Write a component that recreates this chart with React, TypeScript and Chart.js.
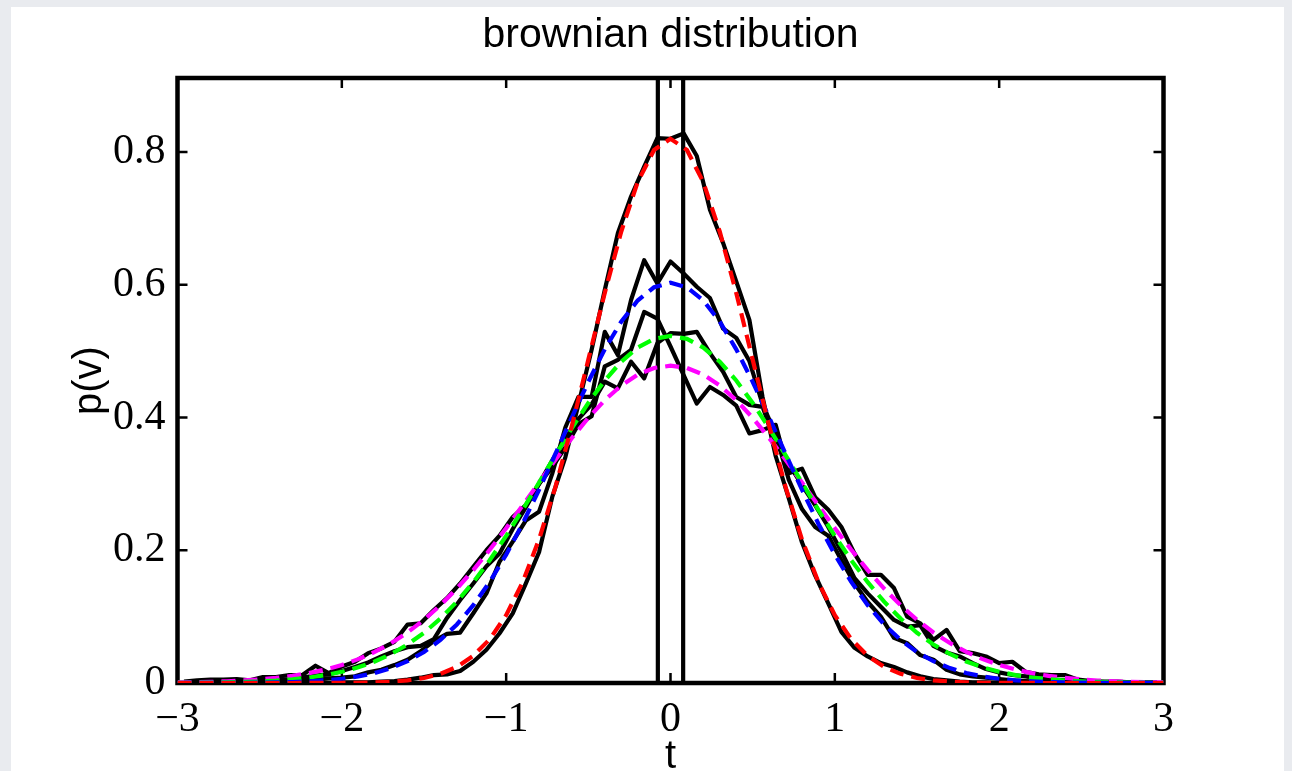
import React, { useEffect, useRef } from "react";
import { Chart, registerables } from "chart.js";

Chart.register(...registerables);

// ---------- data ----------
const binX = [
  -2.96, -2.88, -2.8, -2.72, -2.64, -2.56, -2.48, -2.4, -2.32, -2.24, -2.16, -2.08, -2.0,
  -1.92, -1.84, -1.76, -1.68, -1.6, -1.52, -1.44, -1.36, -1.28, -1.2, -1.12, -1.04,
  -0.96, -0.88, -0.8, -0.72, -0.64, -0.56, -0.48, -0.4, -0.32, -0.24, -0.16, -0.08,
  0,
  0.08, 0.16, 0.24, 0.32, 0.4, 0.48, 0.56, 0.64, 0.72, 0.8, 0.88, 0.96,
  1.04, 1.12, 1.2, 1.28, 1.36, 1.44, 1.52, 1.6, 1.68, 1.76, 1.84, 1.92,
  2.0, 2.08, 2.16, 2.24, 2.32, 2.4, 2.48, 2.56, 2.64, 2.72, 2.8, 2.88, 2.96,
];

// empirical histograms (black solid)
const histRed = [
  0, 0, 0, 0, 0, 0, 0, 0, 0, 0, 0, 0,
  0.001, 0.001, 0.001, 0.002, 0.003, 0.005, 0.008, 0.012, 0.013, 0.018, 0.032, 0.05, 0.075,
  0.105, 0.15, 0.197, 0.28, 0.34, 0.42, 0.502, 0.592, 0.678, 0.733, 0.778, 0.821,
  0.82,
  0.828, 0.794, 0.713, 0.663, 0.605, 0.547, 0.431, 0.342, 0.278, 0.212, 0.162, 0.12,
  0.077, 0.053, 0.04, 0.03, 0.024, 0.016, 0.01, 0.006, 0.004, 0.002, 0.001, 0.001,
  0, 0, 0, 0, 0, 0, 0, 0, 0, 0, 0, 0, 0,
];
const histBlue = [
  0, 0, 0, 0.001, 0.001, 0.002, 0.002, 0.003, 0.004, 0.004, 0.005, 0.007,
  0.008, 0.01, 0.016, 0.02, 0.027, 0.035, 0.048, 0.063, 0.074, 0.076, 0.105, 0.135, 0.183,
  0.213, 0.245, 0.258, 0.315, 0.385, 0.431, 0.431, 0.529, 0.494, 0.577, 0.637, 0.602,
  0.635,
  0.617, 0.597, 0.58, 0.534, 0.52, 0.485, 0.42, 0.375, 0.306, 0.262, 0.235, 0.222,
  0.185, 0.15, 0.122, 0.1, 0.068, 0.06, 0.042, 0.035, 0.02, 0.013, 0.01, 0.008,
  0.006, 0.004, 0.003, 0.002, 0.002, 0.001, 0.001, 0, 0, 0, 0, 0, 0,
];
const histGreen = [
  0.001, 0.001, 0.001, 0.002, 0.002, 0.003, 0.004, 0.005, 0.006, 0.008, 0.011, 0.013,
  0.018, 0.024, 0.031, 0.04, 0.048, 0.054, 0.056, 0.066, 0.098, 0.125, 0.15, 0.176, 0.195,
  0.232, 0.265, 0.3, 0.335, 0.368, 0.398, 0.42, 0.454, 0.444, 0.484, 0.459, 0.512,
  0.527,
  0.526, 0.529, 0.497, 0.469, 0.431, 0.419, 0.416, 0.362, 0.33, 0.298, 0.268, 0.235,
  0.198, 0.158, 0.135, 0.115, 0.095, 0.085, 0.087, 0.056, 0.046, 0.04, 0.03, 0.021,
  0.016, 0.012, 0.01, 0.007, 0.005, 0.004, 0.003, 0.002, 0.001, 0.001, 0.001, 0, 0,
];
const histMagenta = [
  0.002, 0.004, 0.005, 0.005, 0.006, 0.004, 0.009, 0.009, 0.012, 0.012, 0.026, 0.015,
  0.025, 0.032, 0.045, 0.052, 0.062, 0.088, 0.09, 0.11, 0.128, 0.15, 0.175, 0.2, 0.222,
  0.25, 0.268, 0.3, 0.325, 0.355, 0.39, 0.402, 0.477, 0.487, 0.502, 0.559, 0.549,
  0.507,
  0.464, 0.421, 0.446, 0.434, 0.418, 0.376, 0.381, 0.389, 0.316, 0.323, 0.28, 0.261,
  0.235, 0.195, 0.163, 0.163, 0.143, 0.1, 0.09, 0.065, 0.08, 0.048, 0.045, 0.04,
  0.03, 0.032, 0.017, 0.013, 0.012, 0.012, 0.005, 0.003, 0.002, 0.002, 0.001, 0.001, 0.001,
];

// fitted curves (dashed)
const fitX = [
  -3.0, -2.9, -2.8, -2.7, -2.6, -2.5, -2.4, -2.3, -2.2, -2.1, -2.0, -1.9, -1.8, -1.7, -1.6,
  -1.5, -1.4, -1.3, -1.2, -1.1, -1.0, -0.9, -0.8, -0.7, -0.6, -0.5, -0.4, -0.3, -0.2, -0.1,
  0,
  0.1, 0.2, 0.3, 0.4, 0.5, 0.6, 0.7, 0.8, 0.9, 1.0, 1.1, 1.2, 1.3, 1.4, 1.5,
  1.6, 1.7, 1.8, 1.9, 2.0, 2.1, 2.2, 2.3, 2.4, 2.5, 2.6, 2.7, 2.8, 2.9, 3.0,
];
const fitRed = [
  0, 0, 0, 0, 0, 0, 0, 0, 0.0001, 0.0001, 0.0002, 0.0004, 0.001, 0.002, 0.004,
  0.0076, 0.0138, 0.0243, 0.0409, 0.066, 0.1022, 0.1518, 0.2163, 0.2955, 0.3875, 0.4872, 0.5876, 0.6799, 0.7545, 0.8031,
  0.82,
  0.8031, 0.7545, 0.6799, 0.5876, 0.4872, 0.3875, 0.2955, 0.2163, 0.1518, 0.1022, 0.066, 0.0409, 0.0243, 0.0138, 0.0076,
  0.004, 0.002, 0.001, 0.0004, 0.0002, 0.0001, 0.0001, 0, 0, 0, 0, 0, 0, 0, 0,
];
const fitBlue = [
  0, 0.0001, 0.0001, 0.0002, 0.0003, 0.0005, 0.0009, 0.0015, 0.0025, 0.004, 0.0064, 0.0099, 0.0151, 0.0225, 0.0328,
  0.0467, 0.0649, 0.0882, 0.1172, 0.1523, 0.1934, 0.24, 0.2912, 0.3454, 0.4004, 0.4538, 0.5027, 0.5443, 0.5762, 0.5962,
  0.603,
  0.5962, 0.5762, 0.5443, 0.5027, 0.4538, 0.4004, 0.3454, 0.2912, 0.24, 0.1934, 0.1523, 0.1172, 0.0882, 0.0649, 0.0467,
  0.0328, 0.0225, 0.0151, 0.0099, 0.0064, 0.004, 0.0025, 0.0015, 0.0009, 0.0005, 0.0003, 0.0002, 0.0001, 0.0001, 0,
];
const fitGreen = [
  0.0002, 0.0004, 0.0006, 0.001, 0.0016, 0.0024, 0.0037, 0.0056, 0.0082, 0.0119, 0.0169, 0.0236, 0.0324, 0.0437, 0.058,
  0.0757, 0.0972, 0.1225, 0.1519, 0.185, 0.2216, 0.2609, 0.3019, 0.3434, 0.3839, 0.422, 0.4558, 0.4841, 0.5053, 0.5185,
  0.523,
  0.5185, 0.5053, 0.4841, 0.4558, 0.422, 0.3839, 0.3434, 0.3019, 0.2609, 0.2216, 0.185, 0.1519, 0.1225, 0.0972, 0.0757,
  0.058, 0.0437, 0.0324, 0.0236, 0.0169, 0.0119, 0.0082, 0.0056, 0.0037, 0.0024, 0.0016, 0.001, 0.0006, 0.0004, 0.0002,
];
const fitMagenta = [
  0.0008, 0.0011, 0.0017, 0.0026, 0.0038, 0.0054, 0.0077, 0.0108, 0.0149, 0.0202, 0.0271, 0.0359, 0.0468, 0.0602, 0.0762,
  0.0952, 0.1172, 0.1423, 0.1702, 0.2007, 0.2333, 0.2674, 0.3021, 0.3364, 0.3692, 0.3995, 0.4262, 0.4481, 0.4645, 0.4746,
  0.478,
  0.4746, 0.4645, 0.4481, 0.4262, 0.3995, 0.3692, 0.3364, 0.3021, 0.2674, 0.2333, 0.2007, 0.1702, 0.1423, 0.1172, 0.0952,
  0.0762, 0.0602, 0.0468, 0.0359, 0.0271, 0.0202, 0.0149, 0.0108, 0.0077, 0.0054, 0.0038, 0.0026, 0.0017, 0.0011, 0.0008,
];

// vertical marker lines
const markerX = [-0.077, 0.077];

const X_MIN = -3;
const X_MAX = 3;
const Y_MIN = 0;
const Y_MAX = 0.9115;

const xTicks = [-3, -2, -1, 0, 1, 2, 3];
const xTickLabels = ["\u22123", "\u22122", "\u22121", "0", "1", "2", "3"];
const yTicks = [0, 0.2, 0.4, 0.6, 0.8];
const yTickLabels = ["0", "0.2", "0.4", "0.6", "0.8"];

const titleText = "brownian distribution";
const xLabelText = "t";
const yLabelText = "p(v)";

const SERIF = "'Liberation Serif', 'Times New Roman', serif";
const SANS = "'Liberation Sans', Arial, Helvetica, sans-serif";

const pts = (xs: number[], ys: number[]) => xs.map((x, i) => ({ x, y: ys[i] }));

const decorPlugin = {
  id: "matlabDecor",
  beforeDraw(chart: any) {
    const { ctx, width, height } = chart;
    ctx.save();
    ctx.fillStyle = "#e9ebef";
    ctx.fillRect(0, 0, width, height);
    ctx.fillStyle = "#ffffff";
    ctx.fillRect(11, 7, 1273, height - 7);
    ctx.restore();
  },
  beforeDatasetsDraw(chart: any) {
    const { ctx, chartArea, scales } = chart;
    const { left, right, top, bottom } = chartArea;
    ctx.save();
    ctx.strokeStyle = "#000";
    ctx.lineWidth = 2.5;
    const tl = 10;
    ctx.beginPath();
    xTicks.forEach((v) => {
      const px = scales.x.getPixelForValue(v);
      ctx.moveTo(px, bottom);
      ctx.lineTo(px, bottom - tl);
      ctx.moveTo(px, top);
      ctx.lineTo(px, top + tl);
    });
    yTicks.forEach((v) => {
      const py = scales.y.getPixelForValue(v);
      ctx.moveTo(left, py);
      ctx.lineTo(left + tl, py);
      ctx.moveTo(right, py);
      ctx.lineTo(right - tl, py);
    });
    ctx.stroke();
    ctx.lineWidth = 4.5;
    ctx.strokeRect(left, top, right - left, bottom - top);
    ctx.restore();
  },
  afterDraw(chart: any) {
    const { ctx, chartArea } = chart;
    const cx = (chartArea.left + chartArea.right) / 2;
    const cy = (chartArea.top + chartArea.bottom) / 2;
    ctx.save();
    ctx.fillStyle = "#000";
    ctx.textAlign = "center";
    ctx.textBaseline = "alphabetic";
    ctx.font = `41px ${SANS}`;
    ctx.fillText(titleText, cx, 47);
    ctx.font = `40px ${SANS}`;
    ctx.fillText(xLabelText, cx, 768);
    ctx.translate(101, cy);
    ctx.rotate(-Math.PI / 2);
    ctx.fillText(yLabelText, 0, 0);
    ctx.restore();
  },
};

export default function App() {
  const ref = useRef<HTMLCanvasElement>(null);
  useEffect(() => {
    if (!ref.current) return;
    const dashed = (data: any, color: string) => ({
      data,
      borderColor: color,
      borderWidth: 4.2,
      borderDash: [14, 8],
      pointRadius: 0,
      showLine: true,
      fill: false,
      tension: 0,
    });
    const solid = (data: any) => ({
      data,
      borderColor: "#000",
      borderWidth: 4.2,
      borderJoinStyle: "round",
      pointRadius: 0,
      showLine: true,
      fill: false,
      tension: 0,
    });
    const chart = new Chart(ref.current, {
      type: "scatter",
      data: {
        datasets: [
          dashed(pts(fitX, fitRed), "#ff0000"),
          dashed(pts(fitX, fitBlue), "#0000ff"),
          dashed(pts(fitX, fitGreen), "#00ff00"),
          dashed(pts(fitX, fitMagenta), "#ff00ff"),
          solid(pts(binX, histRed)),
          solid(pts(binX, histBlue)),
          solid(pts(binX, histGreen)),
          solid(pts(binX, histMagenta)),
          solid([
            { x: markerX[0], y: Y_MIN },
            { x: markerX[0], y: Y_MAX },
          ]),
          solid([
            { x: markerX[1], y: Y_MIN },
            { x: markerX[1], y: Y_MAX },
          ]),
        ] as any,
      },
      options: {
        animation: false,
        responsive: false,
        devicePixelRatio: 1,
        layout: { padding: { top: 78, right: 128.5, left: 0, bottom: 0 } },
        plugins: {
          legend: { display: false },
          tooltip: { enabled: false },
          title: { display: false },
        },
        scales: {
          x: {
            type: "linear",
            min: X_MIN,
            max: X_MAX,
            grid: { display: false },
            border: { display: false },
            afterBuildTicks: (s: any) => {
              s.ticks = xTicks.map((v) => ({ value: v }));
            },
            afterFit: (s: any) => {
              s.height = 88;
            },
            ticks: {
              autoSkip: false,
              maxRotation: 0,
              padding: 4,
              color: "#000",
              font: { family: SERIF, size: 42 },
              callback: (v: any) => xTickLabels[xTicks.indexOf(Number(v))],
            },
          },
          y: {
            type: "linear",
            min: Y_MIN,
            max: Y_MAX,
            grid: { display: false },
            border: { display: false },
            afterBuildTicks: (s: any) => {
              s.ticks = yTicks.map((v) => ({ value: v }));
            },
            afterFit: (s: any) => {
              s.width = 177.5;
            },
            ticks: {
              autoSkip: false,
              padding: 4,
              color: "#000",
              font: { family: SERIF, size: 42 },
              callback: (v: any) => yTickLabels[yTicks.indexOf(Number(v))],
            },
          },
        },
      } as any,
      plugins: [decorPlugin],
    });
    return () => chart.destroy();
  }, []);
  return (
    <canvas
      ref={ref}
      width={1292}
      height={771}
      style={{ position: "absolute", left: 0, top: 0, width: 1292, height: 771 }}
    />
  );
}
